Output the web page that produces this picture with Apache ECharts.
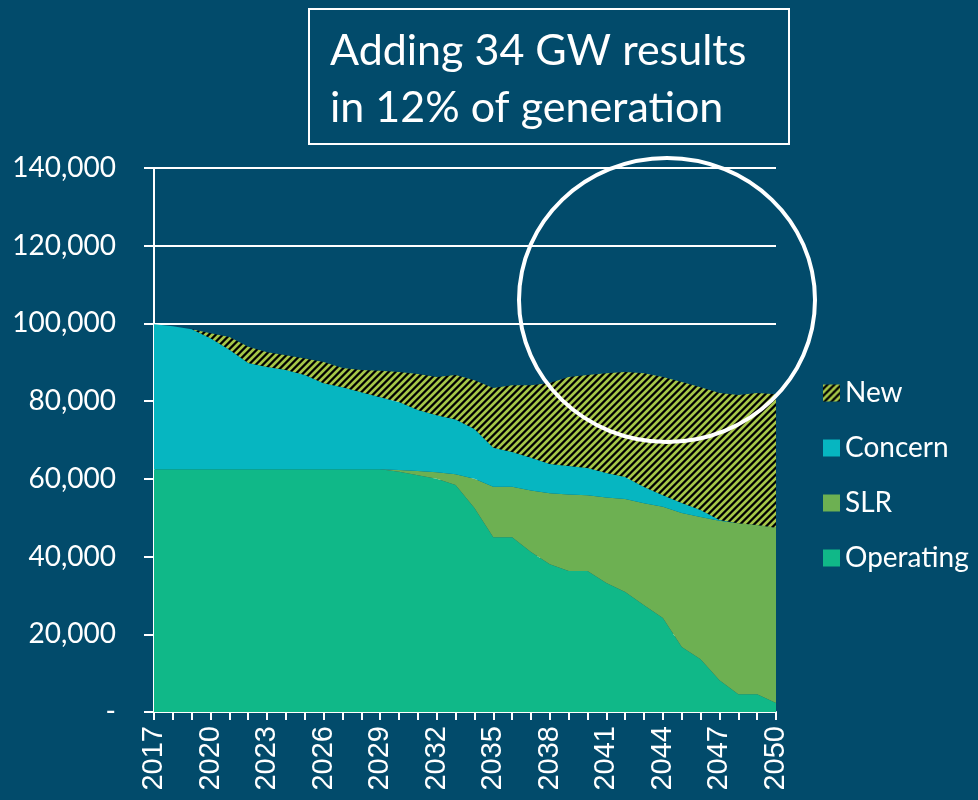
<!DOCTYPE html>
<html>
<head>
<meta charset="utf-8">
<script src="https://cdn.jsdelivr.net/npm/echarts@6/dist/echarts.min.js"></script>
<style>
html, body { margin: 0; padding: 0; background: #024b6b; }
#chart { width: 978px; height: 800px; }
</style>
</head>
<body>
<div id="chart"></div>
<script>
// years 2017..2050
var years = [];
for (var y = 2017; y <= 2050; y++) { years.push(String(y)); }

// MW by category
var operating = [62500, 62500, 62500, 62500, 62500, 62500, 62500, 62500, 62500, 62500, 62500, 62500, 62500,
    61800, 60900, 60000, 58400, 52500, 45000, 45000, 41200, 38000, 36300, 36300, 33200, 30900,
    27500, 24200, 16700, 13600, 8200, 4600, 4600, 2300];
var slr = [0, 0, 0, 0, 0, 0, 0, 0, 0, 0, 0, 0, 0,
    500, 1100, 1700, 2800, 7500, 13000, 13000, 15800, 18300, 19700, 19500, 22000, 23900,
    26200, 28600, 34500, 36600, 41000, 44000, 43500, 45100];
var concern = [37300, 36800, 36000, 33700, 30700, 27300, 26300, 25500, 24200, 22100, 21100, 19800, 18500,
    17500, 15700, 14700, 14100, 12800, 10000, 8900, 8400, 7500, 7300, 7000, 6300, 5700,
    4200, 3000, 2600, 1800, 200, 0, 0, 0];
var newCap = [0, 0, 0, 1300, 3300, 4200, 3800, 3800, 4300, 5500, 4900, 5700, 6800,
    7700, 9300, 9800, 11400, 12600, 15400, 17200, 18700, 20900, 22900, 23900, 25700, 27000,
    29300, 30400, 31100, 31600, 32700, 33000, 34000, 34400];

var legendOrder = ['New', 'Concern', 'SLR', 'Operating'];

// diagonal hatch for "New"
function makeHatch() {
    var n = 7;
    var c = document.createElement('canvas');
    c.width = n; c.height = n;
    var ctx = c.getContext('2d');
    var img = ctx.createImageData(n, n);
    for (var py = 0; py < n; py++) {
        for (var px = 0; px < n; px++) {
            var t = ((px + py) % n) / n;
            var k = 0.6 + 0.9 * Math.cos(t * Math.PI * 2);
            k = Math.max(0, Math.min(1, k));
            var i = (py * n + px) * 4;
            img.data[i] = Math.round(165 * k);
            img.data[i + 1] = Math.round(198 * k);
            img.data[i + 2] = Math.round(72 * k);
            img.data[i + 3] = 255;
        }
    }
    ctx.putImageData(img, 0, 0);
    return c;
}

var chart = echarts.init(document.getElementById('chart'));

function areaSeries(name, data, color) {
    return {
        name: name,
        type: 'line',
        stack: 'total',
        data: data,
        symbol: 'none',
        lineStyle: { width: 0 },
        itemStyle: { color: color },
        areaStyle: { color: color, opacity: 1 }
    };
}

var option = {
    backgroundColor: '#024b6b',
    animation: false,
    textStyle: { fontFamily: 'Lato' },
    grid: { left: 154, right: 202, top: 168, bottom: 88 },
    legend: {
        data: legendOrder,
        orient: 'vertical',
        left: 818,
        top: 374,
        itemWidth: 17,
        itemHeight: 17,
        itemGap: 27,
        icon: 'rect',
        textStyle: { color: '#fff', fontSize: 28, fontFamily: 'Lato', lineHeight: 28, padding: [0, 0, 0, 0] }
    },
    xAxis: {
        type: 'category',
        data: years,
        boundaryGap: false,
        axisLine: { lineStyle: { color: '#fff', width: 2 } },
        axisTick: { show: true, interval: 0, length: 8, lineStyle: { color: '#fff', width: 2 } },
        axisLabel: {
            interval: 2,
            rotate: 90,
            color: '#fff',
            fontSize: 29,
            fontFamily: 'Liberation Sans',
            margin: 14
        },
        splitLine: { show: false }
    },
    yAxis: {
        type: 'value',
        min: 0,
        max: 140000,
        interval: 20000,
        axisLine: { show: true, lineStyle: { color: '#fff', width: 2 } },
        axisTick: { show: true, length: 10, lineStyle: { color: '#fff', width: 2 } },
        axisLabel: {
            color: '#fff',
            fontSize: 28,
            fontFamily: 'Lato',
            margin: 38,
            formatter: function (v) {
                return v === 0 ? '-' : v.toLocaleString('en-US');
            }
        },
        splitLine: { show: true, lineStyle: { color: '#fff', width: 2 } }
    },
    series: [
        areaSeries('Operating', operating, '#10b888'),
        areaSeries('SLR', slr, '#6db052'),
        areaSeries('Concern', concern, '#06b6c1'),
        areaSeries('New', newCap, { image: makeHatch(), repeat: 'repeat' })
    ],
    graphic: [
        {
            type: 'rect',
            shape: { x: 309, y: 9, width: 480, height: 135 },
            style: { fill: 'none', stroke: '#fff', lineWidth: 2 }
        },
        {
            type: 'text',
            left: 330,
            top: 23,
            style: {
                text: 'Adding 34 GW results\nin 12% of generation',
                fill: '#fff',
                font: '43px Lato',
                lineHeight: 57
            }
        },
        {
            type: 'ellipse',
            shape: { cx: 667, cy: 300, rx: 148, ry: 142 },
            style: { fill: 'none', stroke: '#fff', lineWidth: 4 },
            z: 100
        }
    ]
};

chart.setOption(option);
</script>
</body>
</html>
